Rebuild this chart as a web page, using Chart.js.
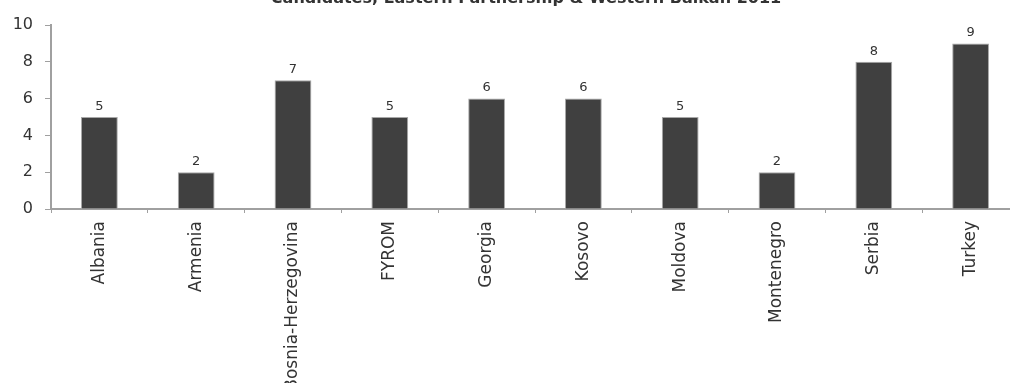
<!DOCTYPE html>
<html>
<head>
<meta charset="utf-8">
<script src="https://cdn.jsdelivr.net/npm/chart.js@4/dist/chart.umd.min.js"></script>
<style>
  html, body { margin: 0; padding: 0; background: #fff; overflow: hidden; }
  #wrap { width: 1010px; height: 383px; overflow: hidden; position: relative; }
  canvas { display: block; }
</style>
</head>
<body>
<div id="wrap"><canvas id="chart" width="1024" height="383"></canvas></div>
<script>
// chart title (only its lower edge shows in the source picture)
const chartTitle = 'Candidates, Eastern Partnership & Western Balkan 2011';

const countries = ['Albania', 'Armenia', 'Bosnia-Herzegovina', 'FYROM', 'Georgia',
  'Kosovo', 'Moldova', 'Montenegro', 'Serbia', 'Turkey'];
const scores = [5, 2, 7, 5, 6, 6, 5, 2, 8, 9];
const yTicks = [0, 2, 4, 6, 8, 10];

const inkColor = '#333333';
const axisColor = '#a0a0a0';

// values drawn above the bars
const valueLabels = {
  id: 'valueLabels',
  afterDatasetsDraw(chart) {
    let ctx = chart.ctx;
    let meta = chart.getDatasetMeta(0);
    ctx.save();
    ctx.font = '13px "DejaVu Sans"';
    ctx.fillStyle = inkColor;
    ctx.textAlign = 'center';
    ctx.textBaseline = 'bottom';
    meta.data.forEach((bar, i) => {
      ctx.fillText(String(scores[i]), bar.x, bar.y - 4);
    });
    ctx.restore();
  },
};

// title cut off at the top edge
const clippedTitle = {
  id: 'clippedTitle',
  afterDraw(chart) {
    let ctx = chart.ctx;
    ctx.save();
    ctx.font = 'bold 16px "DejaVu Sans"';
    ctx.fillStyle = inkColor;
    ctx.textAlign = 'center';
    ctx.textBaseline = 'alphabetic';
    ctx.fillText(chartTitle, 526, 3);
    ctx.restore();
  },
};

new Chart(document.getElementById('chart'), {
  type: 'bar',
  data: {
    labels: countries,
    datasets: [{
      data: scores,
      backgroundColor: '#404040',
      borderColor: '#a8a8a8',
      borderWidth: 1,
      categoryPercentage: 1,
      barPercentage: 0.38,
    }],
  },
  options: {
    responsive: false,
    animation: false,
    layout: {padding: {top: 25, right: 5, left: 0, bottom: 0}},
    plugins: {
      legend: {display: false},
      title: {display: false},
      tooltip: {enabled: false},
    },
    scales: {
      x: {
        grid: {
          display: true,
          drawOnChartArea: false,
          drawTicks: true,
          tickLength: 4,
          color: axisColor,
          offset: true,
        },
        border: {display: true, color: axisColor, width: 2},
        ticks: {
          color: inkColor,
          font: {family: 'DejaVu Sans', size: 17},
          minRotation: 90,
          maxRotation: 90,
          autoSkip: false,
          padding: 8,
        },
        afterFit: (scale) => { scale.height = 174; },
      },
      y: {
        min: 0,
        max: 10,
        afterBuildTicks: (scale) => {
          scale.ticks = yTicks.map((v) => ({value: v}));
        },
        grid: {
          display: true,
          drawOnChartArea: false,
          drawTicks: true,
          tickLength: 6,
          color: axisColor,
        },
        border: {display: true, color: axisColor, width: 2},
        ticks: {
          color: inkColor,
          font: {family: 'DejaVu Sans', size: 16},
          padding: 12,
        },
        afterFit: (scale) => { scale.width = 51; },
      },
    },
  },
  plugins: [valueLabels, clippedTitle],
});
</script>
</body>
</html>
